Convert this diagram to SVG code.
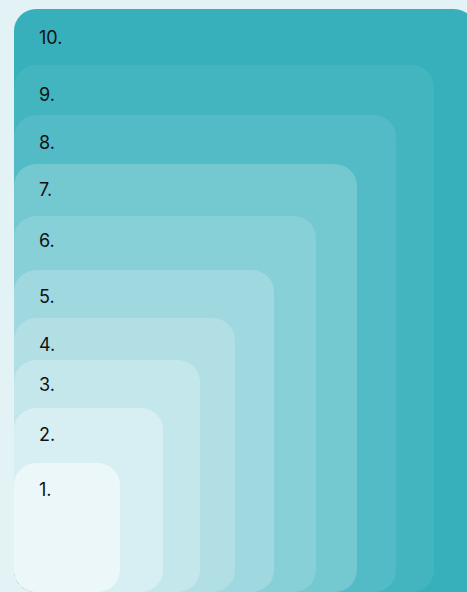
<svg xmlns="http://www.w3.org/2000/svg" width="467" height="592" viewBox="0 0 467 592">
<style>
.lbl{font-family:Inter,"Liberation Sans",sans-serif;font-size:18px;fill:#111;}
</style>
<rect x="0" y="0" width="467" height="592" fill="#e3f2f5"/>
<g id="n10"><rect x="14" y="9" width="462" height="583" rx="22" fill="#38b0bb"/><rect x="440" y="560" width="36" height="32" fill="#38b0bb"/><text class="lbl" x="39" y="44">10.</text></g>
<g id="n9"><rect x="14" y="65" width="420" height="527" rx="22" fill="#43b5bf"/><text class="lbl" x="39" y="101">9.</text></g>
<g id="n8"><rect x="14" y="115" width="382" height="477" rx="22" fill="#52bbc5"/><text class="lbl" x="39" y="149">8.</text></g>
<g id="n7"><rect x="14" y="164" width="343" height="428" rx="22" fill="#74c8cf"/><text class="lbl" x="39" y="196">7.</text></g>
<g id="n6"><rect x="14" y="216" width="302" height="376" rx="22" fill="#87d0d7"/><text class="lbl" x="39" y="247">6.</text></g>
<g id="n5"><rect x="14" y="270" width="260" height="322" rx="22" fill="#9fd8df"/><text class="lbl" x="39" y="303">5.</text></g>
<g id="n4"><rect x="14" y="318" width="221" height="274" rx="22" fill="#b1dfe4"/><text class="lbl" x="39" y="351">4.</text></g>
<g id="n3"><rect x="14" y="360" width="186" height="232" rx="22" fill="#c4e7eb"/><text class="lbl" x="39" y="391">3.</text></g>
<g id="n2"><rect x="14" y="408" width="149" height="184" rx="22" fill="#d7eff2"/><text class="lbl" x="39" y="441">2.</text></g>
<g id="n1"><rect x="14" y="463" width="106" height="129" rx="22" fill="#ebf7f8"/><text class="lbl" x="39" y="496">1.</text></g>
<g id="connectors"/>
</svg>
